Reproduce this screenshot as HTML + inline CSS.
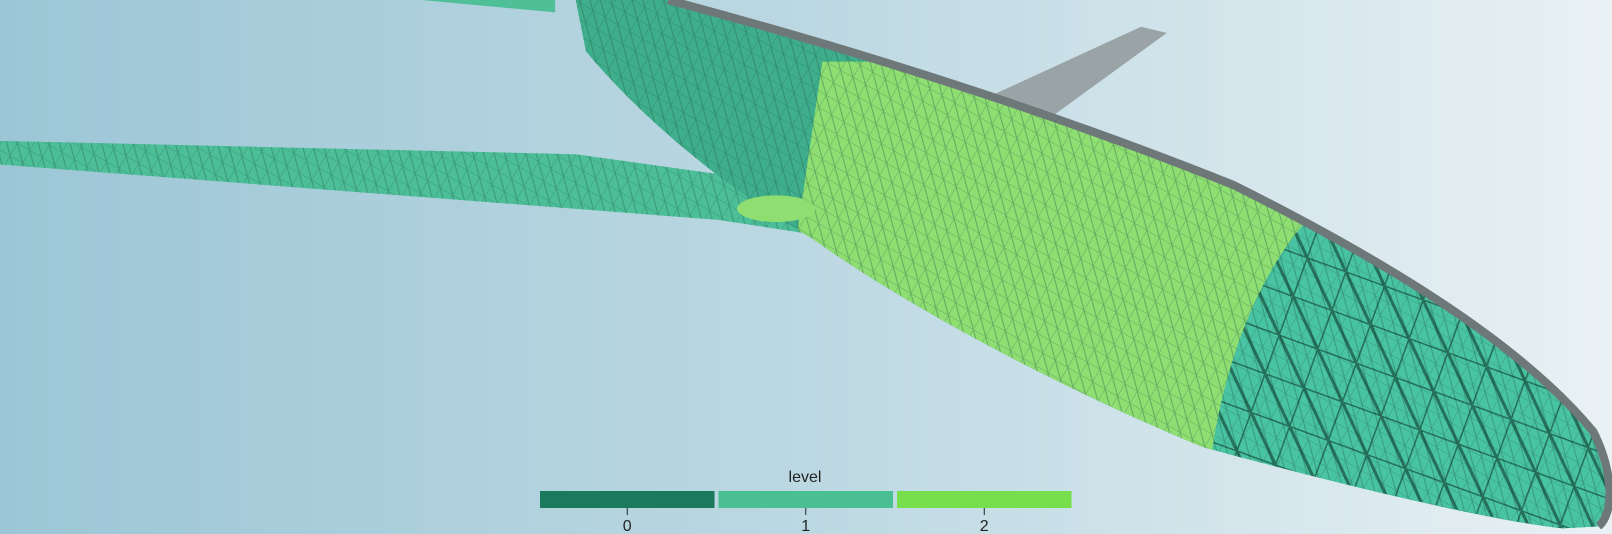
<!DOCTYPE html>
<html><head><meta charset="utf-8"><style>
html,body{margin:0;padding:0;width:1612px;height:534px;overflow:hidden}
svg{display:block}
text{font-family:"Liberation Sans",sans-serif}
</style></head><body>
<svg id="s" width="1612" height="534" viewBox="0 0 1612 534">
<defs>
<linearGradient id="bg" x1="0" y1="0" x2="1" y2="0">
<stop offset="0" stop-color="#9cc6d6"/><stop offset="0.5" stop-color="#bcd8e2"/><stop offset="1" stop-color="#e9f1f4"/>
</linearGradient>
<clipPath id="fus"><path d="M560,0 L650,0 C800,40 1000,100 1200,180 C1350,255 1480,335 1550,420 C1570,460 1570,500 1555,512 L1520,514 C1440,505 1300,470 1170,435 C1050,385 900,310 790,232 C700,180 620,110 570,50 Z"/></clipPath>
<pattern id="mesh" width="14" height="14" patternUnits="userSpaceOnUse" patternTransform="rotate(30)">
<path d="M0,0 L14,0 M0,0 L0,14 M0,0 L14,14" stroke="#1d5a45" stroke-width="1" opacity="0.4" fill="none"/></pattern>
<pattern id="mesh2" width="40" height="40" patternUnits="userSpaceOnUse" patternTransform="rotate(20)">
<path d="M0,0 L40,0 M0,0 L0,40 M0,0 L40,40" stroke="#0e3a2c" stroke-width="3" opacity="0.6" fill="none"/></pattern>
</defs>
<rect width="1612" height="534" fill="url(#bg)"/>
<g transform="scale(1.028)">
<path d="M410,0 L540,0 L540,12 Z" fill="#4fbf98"/>
<path d="M960,95 L1110,26 L1135,32 L1025,112 Z" fill="#9aa3a6"/>
<path d="M0,137 L560,150 L760,178 L790,200 L790,228 L700,214 L0,160 Z" fill="#4cbf98"/>
<path d="M0,137 L560,150 L760,178 L790,228 L700,214 L0,160 Z" fill="url(#mesh)"/>
<g clip-path="url(#fus)">
<rect x="500" y="0" width="1100" height="534" fill="#3fae8c"/>
<path d="M800,60 L1300,60 L1300,200 C1240,260 1200,360 1180,445 L700,445 L775,230 Z" fill="#8fde72"/>
<path d="M1275,210 C1220,270 1190,360 1178,445 L1600,534 L1600,200 Z" fill="#49c4a2"/>
<rect x="500" y="0" width="1100" height="534" fill="url(#mesh)"/>
<path d="M1275,210 C1220,270 1190,360 1178,445 L1600,534 L1600,200 Z" fill="url(#mesh2)"/>
</g>
<path d="M650,0 C800,40 1000,100 1200,180 C1350,255 1480,335 1550,420 C1570,460 1570,500 1555,512" fill="none" stroke="#6f7878" stroke-width="8"/>
<ellipse cx="755" cy="203" rx="38" ry="13" fill="#8fde72"/>
</g>
<g id="legend">
<text x="805" y="482" font-size="16" text-anchor="middle" fill="#222">level</text>
</g>
</svg>
<script>
const levels=["0","1","2"];
const levelColors=["#1b7a5b","#49bf93","#76df4b"];
const g=document.getElementById('legend');
const ns="http://www.w3.org/2000/svg";
const x0=540,w=178.5;
levels.forEach((l,i)=>{
 const x=x0+i*w;
 const r=document.createElementNS(ns,'rect');
 r.setAttribute('x',x);r.setAttribute('y',491);r.setAttribute('width',w-4);r.setAttribute('height',17);r.setAttribute('fill',levelColors[i]);
 
 
 g.appendChild(r);
 const t=document.createElementNS(ns,'line');
 const cx=x+(w-4)/2;
 t.setAttribute('x1',cx);t.setAttribute('x2',cx);t.setAttribute('y1',508);t.setAttribute('y2',515);t.setAttribute('stroke','#222');
 
 
 g.appendChild(t);
 const tx=document.createElementNS(ns,'text');
 tx.setAttribute('x',cx);tx.setAttribute('y',531);tx.setAttribute('font-size','16');tx.setAttribute('text-anchor','middle');tx.setAttribute('fill','#222');
 tx.textContent=l;
 
 
 g.appendChild(tx);
});
</script>
</body></html>
